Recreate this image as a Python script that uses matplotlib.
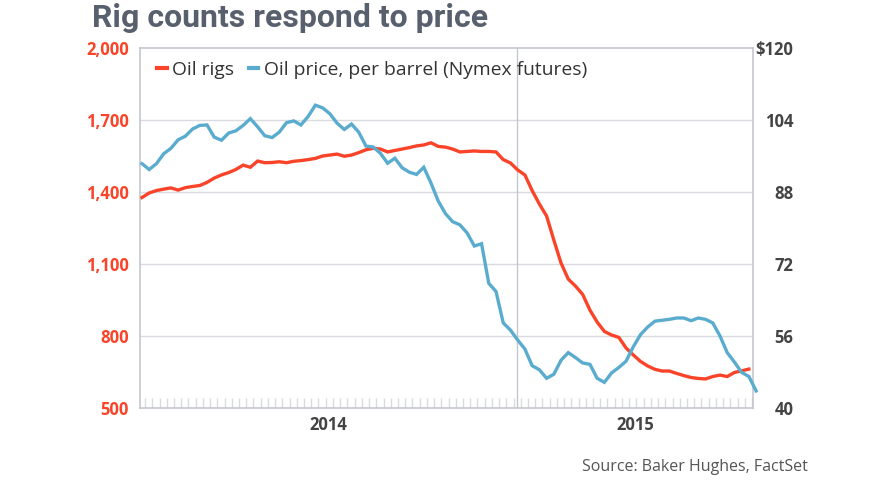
import numpy as np
import pandas as pd
import matplotlib
matplotlib.use("Agg")
import matplotlib.pyplot as plt
import matplotlib.dates as mdates
from matplotlib.lines import Line2D

# weekly US oil rig counts (Baker Hughes), from Jan 3, 2014
rigs = [1377, 1396, 1406, 1412, 1417, 1408, 1418, 1423, 1427, 1440,
        1458, 1471, 1481, 1494, 1512, 1503, 1529, 1522, 1523, 1526,
        1522, 1528, 1531, 1535, 1540, 1550, 1554, 1558, 1549, 1554,
        1564, 1576, 1582, 1579, 1567, 1573, 1579, 1585, 1592, 1596,
        1605, 1590, 1587, 1579, 1567, 1569, 1571, 1569, 1569, 1567,
        1535, 1521, 1492, 1471, 1406, 1350, 1300, 1200, 1104, 1037,
        1008, 973, 908, 858, 819, 804, 794, 750, 721, 694,
        675, 661, 654, 654, 644, 635, 627, 623, 621, 631,
        637, 631, 648, 655, 662]

# weekly WTI futures price, $ per barrel
price = [94.3, 93.0, 94.3, 96.5, 97.7, 99.6, 100.4, 102.0, 102.8, 102.9,
         100.2, 99.5, 101.1, 101.6, 102.8, 104.3, 102.5, 100.5, 100.1, 101.3,
         103.4, 103.8, 102.9, 104.8, 107.3, 106.7, 105.4, 103.3, 101.9, 103.1,
         101.3, 98.2, 98.0, 96.6, 94.4, 95.5, 93.4, 92.4, 91.9, 93.5,
         90.0, 86.0, 83.2, 81.4, 80.7, 78.9, 76.0, 76.5, 67.7, 65.9,
         58.9, 57.3, 55.1, 53.1, 49.4, 48.5, 46.6, 47.5, 50.6, 52.3,
         51.2, 50.0, 49.7, 46.6, 45.7, 47.8, 49.0, 50.4, 53.6, 56.3,
         58.0, 59.3, 59.5, 59.7, 60.0, 60.0, 59.4, 60.0, 59.7, 58.9,
         56.0, 52.3, 50.2, 47.9, 47.0, 43.8]

rig_dates = pd.date_range("2014-01-03", periods=len(rigs), freq="7D")
price_dates = pd.date_range("2014-01-03", periods=len(price), freq="7D")

rig_ticks = [500, 800, 1100, 1400, 1700, 2000]
price_ticks = [40, 56, 72, 88, 104, 120]
price_labels = ["40", "56", "72", "88", "104", "$120"]
years = ["2014", "2015"]

RED = "#fa4429"
BLUE = "#5aacce"
GRID = "#d9dbe0"
SPINE = "#c4c7cd"

plt.rcParams["font.family"] = ["Open Sans", "DejaVu Sans"]

fig = plt.figure(figsize=(8.8, 4.95), dpi=100)
ax = fig.add_axes([0.159, 0.1758, 0.6967, 0.7272])
ax2 = ax.twinx()

ax.plot(rig_dates, rigs, color=RED, lw=2.4, solid_joinstyle="miter", zorder=3)
ax2.plot(price_dates, price, color=BLUE, lw=2.4, solid_joinstyle="miter",
         clip_on=False, zorder=3)

x0 = pd.Timestamp("2014-01-01")
x1 = pd.Timestamp("2015-08-18")
y2015 = pd.Timestamp("2015-01-01")
ax.set_xlim(x0, x1)

ax.set_ylim(500, 2000)
ax.set_yticks(rig_ticks)
ax.set_yticklabels([f"{v:,}" for v in rig_ticks], color=RED,
                   fontweight="bold", fontsize=12)
ax.tick_params(axis="y", length=0, pad=8)
for v in rig_ticks[1:-1]:
    ax.axhline(v, color=GRID, lw=1, zorder=1)

ax2.set_ylim(40, 120)
ax2.set_yticks(price_ticks)
ax2.set_yticklabels(price_labels, color="#444444", fontweight="bold",
                    fontsize=12, ha="right")
ax2.tick_params(axis="y", length=0, pad=29)

ax.axvline(y2015, color=SPINE, lw=1, zorder=1)

# year labels centred in each visible year
mid14 = x0 + (y2015 - x0) / 2
mid15 = y2015 + (x1 - y2015) / 2
ax.set_xticks([mid14, mid15])
ax.set_xticklabels(years, fontweight="bold", fontsize=12, color="#444444")
ax.tick_params(axis="x", which="major", length=0, pad=6)
ax.xaxis.set_minor_locator(mdates.WeekdayLocator(byweekday=mdates.MO))
ax.tick_params(axis="x", which="minor", direction="in", length=7,
               color=GRID, width=1)

for s in ax.spines.values():
    s.set_color(SPINE)
    s.set_linewidth(1.2)
for s in ax2.spines.values():
    s.set_visible(False)

handles = [Line2D([], [], color=RED, lw=3), Line2D([], [], color=BLUE, lw=3)]
ax.legend(handles, ["Oil rigs", "Oil price, per barrel (Nymex futures)"],
          loc="upper left", bbox_to_anchor=(0.0, 1.012), ncol=2,
          frameon=False, handlelength=0.48, handletextpad=0.3,
          columnspacing=0.75, fontsize=13.9, labelcolor="#333333")

fig.text(0.105, 0.945, "Rig counts respond to price", fontsize=23,
         fontweight="bold", color="#58606d", family="Roboto")
fig.text(0.918, 0.048, "Source: Baker Hughes, FactSet", fontsize=11.5,
         color="#555555", ha="right")

fig.savefig("out.png", dpi=100)
